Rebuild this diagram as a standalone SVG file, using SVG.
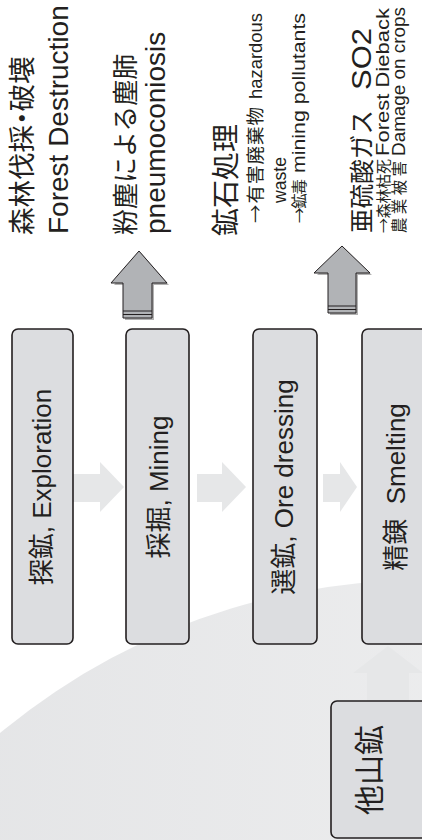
<svg xmlns="http://www.w3.org/2000/svg" width="422" height="840" viewBox="0 0 422 840">
<style>
.t{font-family:"Liberation Sans","Noto Sans CJK JP",sans-serif;fill:#231f20}
.j{font-family:"Noto Sans CJK JP",sans-serif}
.box{fill:#dcdde0;stroke:#231f20;stroke-width:1.6}
.la{fill:#e6e7e8}
.da{fill:#b1b3b6;stroke:#231f20;stroke-width:1}
.sh{fill:#555;opacity:0.45}
</style>
<defs>
<linearGradient id="bg" x1="0" y1="0" x2="1" y2="0">
<stop offset="0" stop-color="#e1e2e4"/>
<stop offset="1" stop-color="#f6f6f6"/>
</linearGradient>
</defs>
<rect width="422" height="840" fill="#ffffff"/>
<circle cx="423" cy="1241" r="661" fill="url(#bg)"/>
<g id="connectors">
<polygon class="la" points="73,474 100,474 100,462 124,487 100,512 100,502 73,502"/>
<polygon class="la" points="197,474 222,474 222,462 246,487 222,512 222,502 197,502"/>
<polygon class="la" points="323,474 340,474 340,462 357,487 340,512 340,502 323,502"/>
<polygon class="la" points="367,701 367,673 353,673 388,646 423,673 409,673 409,701"/>
<g id="arrowA">
<polygon class="sh" points="125,320 125,285 114,285 141,253 169,285 154,285 154,320"/>
<polygon class="da" points="123,318 123,283 111,283 139,251 167,283 152,283 152,318"/>
<line x1="123" y1="311" x2="152" y2="311" stroke="#231f20" stroke-width="1"/>
<line x1="123" y1="314.5" x2="152" y2="314.5" stroke="#231f20" stroke-width="1"/>
</g>
<g id="arrowB">
<polygon class="sh" points="330,315 330,275 317,275 344,248 372,275 358,275 358,315"/>
<polygon class="da" points="328,313 328,273 314,273 342,246 370,273 356,273 356,313"/>
<line x1="328" y1="306" x2="356" y2="306" stroke="#231f20" stroke-width="1"/>
<line x1="328" y1="309.5" x2="356" y2="309.5" stroke="#231f20" stroke-width="1"/>
</g>
</g>
<g id="n1"><rect class="box" x="12" y="329" width="61" height="315" rx="6"/>
<text class="t" font-size="26" text-anchor="middle" transform="translate(51,487) rotate(-90)">探鉱, Exploration</text></g>
<g id="n2"><rect class="box" x="126" y="329" width="63" height="315" rx="6"/>
<text class="t" font-size="26" text-anchor="middle" transform="translate(168,487) rotate(-90)">採掘, Mining</text></g>
<g id="n3"><rect class="box" x="253" y="329" width="64" height="315" rx="6"/>
<text class="t" font-size="26" text-anchor="middle" transform="translate(293,487) rotate(-90)">選鉱, Ore dressing</text></g>
<g id="n4"><rect class="box" x="362" y="329" width="70" height="315" rx="6"/>
<text class="t" font-size="26" text-anchor="middle" xml:space="preserve" transform="translate(405,487) rotate(-90)">精錬  Smelting</text></g>
<g id="n5"><rect class="box" x="331" y="701" width="110" height="137" rx="6"/>
<text class="t" font-size="30" text-anchor="middle" transform="translate(380,770) rotate(-90)">他山鉱</text></g>
<g id="g1">
<text class="t" font-size="27.5" transform="translate(32,235) rotate(-90)">森林伐採<tspan dx="-7">・</tspan><tspan dx="-7">破壊</tspan></text>
<text class="t" font-size="28" transform="translate(68,234) rotate(-90)">Forest Destruction</text>
</g>
<g id="g2">
<text class="t" font-size="26" transform="translate(135,235) rotate(-90)">粉塵による塵肺</text>
<text class="t" font-size="28" transform="translate(165,234) rotate(-90)">pneumoconiosis</text>
</g>
<g id="g3">
<text class="t" font-size="28" transform="translate(236,236) rotate(-90)">鉱石処理</text>
<text class="t" transform="translate(262,223) rotate(-90)"><tspan class="j" font-size="18.5" textLength="116" lengthAdjust="spacing">→有害廃棄物</tspan><tspan x="124" font-size="19" textLength="86" lengthAdjust="spacingAndGlyphs">hazardous</tspan></text>
<text class="t" font-size="19" transform="translate(286,203) rotate(-90)" textLength="46" lengthAdjust="spacingAndGlyphs">waste</text>
<text class="t" transform="translate(305,223) rotate(-90)"><tspan class="j" font-size="15.5" textLength="44" lengthAdjust="spacing">→鉱毒</tspan><tspan x="50" font-size="19" textLength="160" lengthAdjust="spacingAndGlyphs">mining pollutants</tspan></text>
</g>
<g id="g4">
<text class="t" transform="translate(371,233) rotate(-90)"><tspan class="j" font-size="24.5" textLength="123" lengthAdjust="spacing">亜硫酸ガス</tspan><tspan x="143" font-size="28" textLength="62" lengthAdjust="spacingAndGlyphs">SO2</tspan></text>
<text class="t" transform="translate(389,233) rotate(-90)"><tspan class="j" font-size="15" textLength="74" lengthAdjust="spacing">→森林枯死</tspan><tspan x="77" font-size="19" textLength="148" lengthAdjust="spacingAndGlyphs">Forest Dieback</tspan></text>
<text class="t" transform="translate(405,233) rotate(-90)"><tspan class="j" font-size="15.5" textLength="72" lengthAdjust="spacing">農業被害</tspan><tspan x="77" font-size="19" textLength="149" lengthAdjust="spacingAndGlyphs">Damage on crops</tspan></text>
</g>
</svg>
